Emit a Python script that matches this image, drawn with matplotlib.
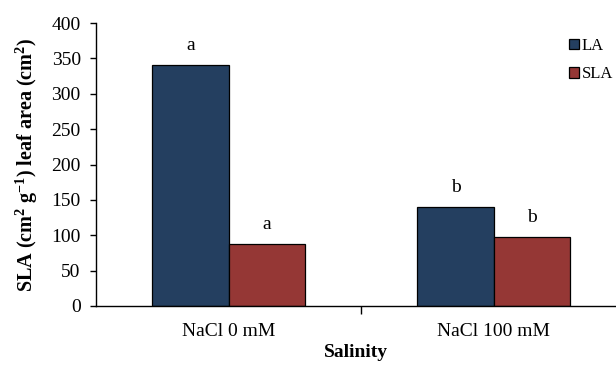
import matplotlib
matplotlib.use("Agg")
import matplotlib.pyplot as plt
import numpy as np

categories = ["NaCl 0 mM", "NaCl 100 mM"]
la_values = [340, 140]
sla_values = [88, 97]
la_letters = ["a", "b"]
sla_letters = ["a", "b"]
yticks = [0, 50, 100, 150, 200, 250, 300, 350, 400]

plt.rcParams['font.family'] = ['Liberation Serif', 'DejaVu Serif']
plt.rcParams['mathtext.default'] = 'regular'

W, H = 616, 365
fig = plt.figure(figsize=(W/100, H/100), dpi=100)
left, right, top, bottom = 96, 616, 23, 306
ax = fig.add_axes([left/W, 1-bottom/H, (right-left)/W, (bottom-top)/H])

x = np.arange(len(categories))
bw = 0.287
c_la = "#243F60"
c_sla = "#953735"
ax.bar(x - bw/2, la_values, bw, color=c_la, edgecolor="black", linewidth=0.9, label="LA")
ax.bar(x + bw/2, sla_values, bw, color=c_sla, edgecolor="black", linewidth=0.9, label="SLA")

for xi, v, t in zip(x - bw/2, la_values, la_letters):
    ax.annotate(t, (xi, v), xytext=(0, 8), textcoords="offset points", ha="center", va="bottom", fontsize=14)
for xi, v, t in zip(x + bw/2, sla_values, sla_letters):
    ax.annotate(t, (xi, v), xytext=(0, 8), textcoords="offset points", ha="center", va="bottom", fontsize=14)

span = 265.0
ax.set_xlim(-0.5, -0.5 + (right - left) / span)
ax.set_ylim(0, 400)
ax.set_yticks(yticks)
ax.tick_params(axis='y', direction='out', length=4.5, width=1, labelsize=14, pad=6.5)
ax.set_xticks(x)
ax.set_xticklabels(categories, fontsize=14)
ax.tick_params(axis='x', length=0, pad=12)
ax.set_xticks([0.5], minor=True)
ax.tick_params(axis='x', which='minor', length=6, width=1, direction='out')

for s in ['top', 'right']:
    ax.spines[s].set_visible(False)
ax.spines['left'].set_linewidth(1)
ax.spines['bottom'].set_linewidth(1)

ax.set_xlabel("Salinity", fontsize=14, fontweight='bold', labelpad=3)
ax.set_ylabel("SLA (cm$^2$ g$^{-1}$) leaf area (cm$^2$)", fontsize=14.5, fontweight='bold', labelpad=8)

ax.legend(loc='upper left', bbox_to_anchor=(0.88, 1.0), frameon=False, fontsize=12,
          handlelength=0.6, handleheight=0.6, handletextpad=0.2, labelspacing=0.75)

fig.savefig("out.png", dpi=100)
